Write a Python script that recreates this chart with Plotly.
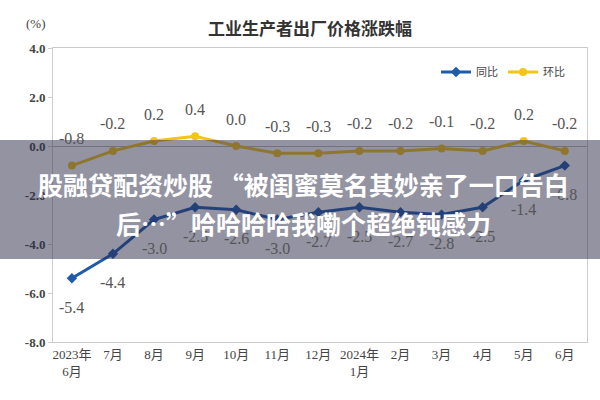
import plotly.graph_objects as go

months = ["2023年<br>6月", "7月", "8月", "9月", "10月", "11月", "12月", "2024年<br>1月",
          "2月", "3月", "4月", "5月", "6月"]
yoy = [-5.4, -4.4, -3.0, -2.5, -2.6, -3.0, -2.7, -2.5, -2.7, -2.8, -2.5, -1.4, -0.8]
mom = [-0.8, -0.2, 0.2, 0.4, 0.0, -0.3, -0.3, -0.2, -0.2, -0.1, -0.2, 0.2, -0.2]
y_ticks = [4, 2, 0, -2, -4, -6, -8]

title = "工业生产者出厂价格涨跌幅"
overlay_line1 = "股融贷配资炒股 “被闺蜜莫名其妙亲了一口告白"
overlay_line2 = "后…”哈哈哈哈我嘞个超绝钝感力"

BLUE = "#1f5bab"
YELLOW = "#f4c417"
serif = "Liberation Serif, DejaVu Serif, Noto Sans CJK SC"

top, bottom, left, width = 48, 342, 53, 534
def py(p):
    return (bottom - p) / (bottom - top)
def px(p):
    return (p - left) / width

fig = go.Figure()
fig.add_trace(go.Scatter(x=months, y=yoy, name="同比", mode="lines+markers",
                         line=dict(color=BLUE, width=3),
                         marker=dict(symbol="diamond", size=8, color=BLUE)))
fig.add_trace(go.Scatter(x=months, y=mom, name="环比", mode="lines+markers",
                         line=dict(color=YELLOW, width=3),
                         marker=dict(symbol="circle", size=8, color=YELLOW)))

anns = []
for m, v in zip(months, yoy):
    anns.append(dict(x=m, y=v, text=f"{v:.1f}", showarrow=False, yshift=-29,
                     font=dict(family=serif, size=16, color="#555")))
for m, v in zip(months, mom):
    anns.append(dict(x=m, y=v, text=f"{v:.1f}", showarrow=False, yshift=27,
                     font=dict(family=serif, size=16, color="#555")))
anns.append(dict(x=px(36), y=py(24), xref="paper", yref="paper", text="(%)", showarrow=False,
                 xanchor="center", yanchor="middle",
                 font=dict(family=serif, size=13, color="#444")))
anns.append(dict(x=px(310), y=py(28), xref="paper", yref="paper", text=title, showarrow=False,
                 xanchor="center", yanchor="middle",
                 font=dict(family="Noto Sans CJK SC", size=17, color="#333", weight="bold")))
for txt, yy in [(overlay_line1, 184), (overlay_line2, 223)]:
    anns.append(dict(x=px(303), y=py(yy), xref="paper", yref="paper", text=txt, showarrow=False,
                     xanchor="center", yanchor="middle",
                     font=dict(family="Noto Sans CJK SC", size=25, color="white", weight="bold")))

fig.update_layout(
    width=600, height=400,
    margin=dict(l=53, r=13, t=48, b=58),
    paper_bgcolor="white", plot_bgcolor="white",
    showlegend=True,
    legend=dict(orientation="h", x=px(436), y=py(72), xanchor="left", yanchor="middle",
                font=dict(family=serif, size=11, color="#444"), bgcolor="rgba(0,0,0,0)",
                itemwidth=30, tracegroupgap=0),
    annotations=anns,
    shapes=[dict(type="rect", xref="paper", yref="paper",
                 x0=px(0), x1=px(600), y0=py(259), y1=py(140),
                 fillcolor="rgba(40,40,70,0.5)", line=dict(width=0), layer="above")],
    xaxis=dict(range=[-0.46, 12.54], showgrid=False, showline=True, linecolor="#ccc",
               mirror=True, ticks="", tickfont=dict(family=serif, size=13, color="#444")),
    yaxis=dict(range=[-8, 4], tickvals=y_ticks, ticktext=[f"{v:.1f}" for v in y_ticks],
               showgrid=False, showline=True, linecolor="#ccc", mirror=True,
               ticks="outside", ticklen=4, tickcolor="#ccc",
               zeroline=True, zerolinecolor="#bbb", zerolinewidth=1,
               tickfont=dict(family=serif, size=13, color="#444", weight="bold")),
)

fig.write_html("out.html", config={"displayModeBar": False},
               post_script="document.body.style.margin='0px';")
